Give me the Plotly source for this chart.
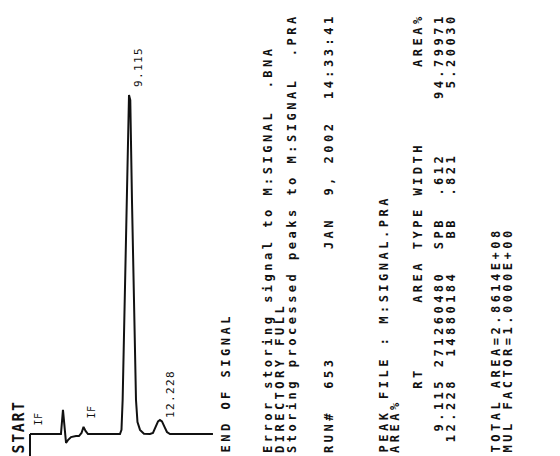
import plotly.graph_objects as go

W, H = 560, 456
OFF = 8  # page body margin of the html page, compensated in all positions

# ---- chromatogram trace (time in min, signal in arbitrary units) ----
time_min = [0.00, 2.92, 3.11, 3.25, 3.40, 3.58, 3.87, 4.34, 4.62, 4.86, 5.05, 5.24, 5.47,
            8.49, 8.63, 8.74, 8.93, 9.12, 9.25, 9.34, 9.46, 9.50, 9.62, 9.81, 10.00, 10.14,
            10.38, 10.75, 11.32, 11.60, 11.84, 12.08, 12.26, 12.45, 12.69, 12.92, 13.21, 17.26]
signal = [0, 0, 7.1, 2.4, -2.6, -1.8, -0.9, -0.6, -0.6, 0.3, 2.1, 0.9, 0,
          0, 1.2, 10.0, 39.4, 68.8, 88.5, 99.7, 98.2, 88.5, 68.8, 39.4, 10.0, 3.5,
          1.2, 0.1, 0, 0.3, 2.1, 3.7, 4.1, 3.7, 2.1, 0.6, 0, 0]
start_time = 0.0

# peak labels (retention times) and the apex each belongs to
peak_labels = ["9.115", "12.228"]
peak_apex_index = [19, 32]

event_labels = ["IF", "IF"]

# ---- report text lines ----
report_lines = [
    "END OF SIGNAL",
    "Error storing signal to M:SIGNAL  .BNA",
    "DIRECTORY FULL",
    "Storing processed peaks to M:SIGNAL  .PRA",
    "RUN#  653          JAN  9, 2002  14:33:41",
    "PEAK FILE : M:SIGNAL.PRA",
    "AREA%",
    "      RT      AREA TYPE WIDTH       AREA%",
    "  9.115 271260480  SPB  .612     94.79971",
    " 12.228  14880184   BB  .821      5.20030",
    "TOTAL AREA=2.8614E+08",
    "MUL FACTOR=1.0000E+00",
]
report_x = [225, 268, 280, 292, 329, 383, 395, 418, 439, 451, 495, 507]

# axis calibration (pixels per unit), in picture pixels
T0_PX, PX_PER_MIN = 30.0, 10.6
BASE_PX, PX_PER_UNIT = 434.0, 3.4
x_range = [(OFF - T0_PX) / PX_PER_MIN, (W + OFF - T0_PX) / PX_PER_MIN]
y_range = [(BASE_PX - H - OFF) / PX_PER_UNIT, (BASE_PX - OFF) / PX_PER_UNIT]

FONT = "DejaVu Sans Mono"
INK = "#111111"


def pxx(p):
    return (p - OFF) / W


def pxy(p):
    return 1 - (p - OFF) / H


def spaced(text, ls):
    return '<span style="letter-spacing:%.2fpx">%s</span>' % (ls, text.replace(" ", "\u00a0"))


fig = go.Figure()
fig.add_trace(go.Scatter(x=time_min, y=signal, mode="lines",
                         line=dict(color=INK, width=2), hoverinfo="skip",
                         showlegend=False))

# START marker: vertical stroke from the bottom edge up to the baseline at start time
fig.add_shape(type="line", xref="x", yref="y", x0=start_time, x1=start_time,
              y0=y_range[0], y1=0, line=dict(color=INK, width=2))

annotations = []


def rot(text, xc, ybot, size, ls, weight="normal", xref="paper", yref="paper", xs=0, ys=0):
    return dict(text=spaced(text, ls), x=xc, y=ybot, xref=xref, yref=yref,
                xanchor="center", yanchor="bottom", textangle=-90, showarrow=False,
                borderpad=0, borderwidth=0, xshift=xs, yshift=ys,
                font=dict(family=FONT, size=size, color=INK, weight=weight))


annotations.append(rot("START", pxx(18), pxy(454), 15, 1.6, weight="bold"))
annotations.append(rot(event_labels[0], pxx(38), pxy(426), 10, 0.5))
annotations.append(rot(event_labels[1], pxx(91), pxy(419), 10, 0.5))

label_shift = [(9, 8), (10, 2)]
for lab, idx, (xs, ys) in zip(peak_labels, peak_apex_index, label_shift):
    annotations.append(rot(lab, time_min[idx], signal[idx], 11, 1.4,
                           xref="x", yref="y", xs=xs, ys=ys))

for line, xc in zip(report_lines, report_x):
    annotations.append(rot(line, pxx(xc), pxy(453), 12, 3.5, weight="bold"))

fig.update_layout(
    width=W, height=H, margin=dict(l=0, r=0, t=0, b=0),
    paper_bgcolor="white", plot_bgcolor="white",
    xaxis=dict(range=x_range, visible=False, fixedrange=True),
    yaxis=dict(range=y_range, visible=False, fixedrange=True),
    annotations=annotations, showlegend=False,
)

fig.write_html("out.html")
